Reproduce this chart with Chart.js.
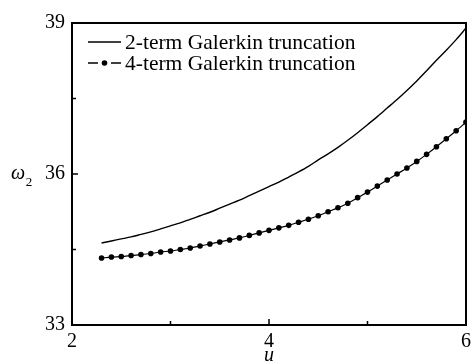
<!DOCTYPE html>
<html>
<head>
<meta charset="utf-8">
<script src="https://cdn.jsdelivr.net/npm/chart.js@4.4.0/dist/chart.umd.min.js"></script>
<style>
  html, body { margin: 0; padding: 0; background: #fff; }
  #wrap { width: 476px; height: 364px; }
</style>
</head>
<body>
<div id="wrap"><canvas id="grafico"></canvas></div>
<script>
// valores
const u = [2.3, 2.4, 2.5, 2.6, 2.7, 2.8, 2.9, 3.0, 3.1, 3.2, 3.3, 3.4, 3.5, 3.6, 3.7, 3.8, 3.9,
  4.0, 4.1, 4.2, 4.3, 4.4, 4.5, 4.6, 4.7, 4.8, 4.9, 5.0, 5.1, 5.2, 5.3, 5.4, 5.5, 5.6, 5.7, 5.8, 5.9, 6.0];
const omega2Term = [34.63, 34.67, 34.71, 34.75, 34.80, 34.85, 34.91, 34.97, 35.03, 35.10, 35.17, 35.24,
  35.32, 35.40, 35.48, 35.57, 35.66, 35.75, 35.84, 35.94, 36.04, 36.15, 36.28, 36.40, 36.53, 36.67,
  36.82, 36.98, 37.14, 37.31, 37.48, 37.66, 37.85, 38.05, 38.26, 38.46, 38.67, 38.90];
const omega4Term = [34.33, 34.35, 34.36, 34.38, 34.40, 34.42, 34.45, 34.47, 34.50, 34.53, 34.57, 34.61,
  34.65, 34.69, 34.73, 34.78, 34.83, 34.88, 34.93, 34.98, 35.04, 35.10, 35.17, 35.25, 35.33, 35.42,
  35.53, 35.64, 35.76, 35.88, 36.00, 36.12, 36.25, 36.39, 36.54, 36.70, 36.86, 37.03];
const xTicks = [2, 4, 6];
const xMinor = [3, 5];
const yTicks = [33, 36, 39];
const yMinor = [34.5, 37.5];
const seriesNames = ["2-term Galerkin truncation", "4-term Galerkin truncation"];

const serif = "'Liberation Serif', 'Times New Roman', serif";

// marco, marcas interiores, leyenda y titulos de ejes
const marco = {
  id: "marco",
  afterDraw(chart) {
    const { ctx, chartArea: a, scales } = chart;
    ctx.save();
    ctx.strokeStyle = "#000";
    ctx.lineWidth = 2;
    ctx.strokeRect(a.left, a.top, a.right - a.left, a.bottom - a.top);

    ctx.lineWidth = 1.5;
    ctx.beginPath();
    xTicks.concat(xMinor).forEach((v) => {
      const px = scales.x.getPixelForValue(v);
      const len = xTicks.includes(v) ? 6 : 4;
      ctx.moveTo(px, a.bottom);
      ctx.lineTo(px, a.bottom - len);
    });
    yTicks.concat(yMinor).forEach((v) => {
      const py = scales.y.getPixelForValue(v);
      const len = yTicks.includes(v) ? 6 : 4;
      ctx.moveTo(a.left, py);
      ctx.lineTo(a.left + len, py);
    });
    ctx.stroke();

    // leyenda
    ctx.fillStyle = "#000";
    ctx.font = "21.5px " + serif;
    ctx.textBaseline = "middle";
    const lx = a.left + 16;
    const rows = [a.top + 19, a.top + 40];
    ctx.lineWidth = 1.3;
    ctx.beginPath();
    ctx.moveTo(lx, rows[0]);
    ctx.lineTo(lx + 33, rows[0]);
    ctx.moveTo(lx, rows[1]);
    ctx.lineTo(lx + 10, rows[1]);
    ctx.moveTo(lx + 23, rows[1]);
    ctx.lineTo(lx + 33, rows[1]);
    ctx.stroke();
    ctx.beginPath();
    ctx.arc(lx + 16.5, rows[1], 2.8, 0, Math.PI * 2);
    ctx.fill();
    ctx.textAlign = "left";
    ctx.fillText(seriesNames[0], lx + 37, rows[0] + 1);
    ctx.fillText(seriesNames[1], lx + 37, rows[1] + 1);

    // titulos
    ctx.font = "italic 20px " + serif;
    ctx.textAlign = "center";
    ctx.fillText("u", (a.left + a.right) / 2, 356);
    const yc = scales.y.getPixelForValue(36);
    ctx.fillText("ω", 18, yc);
    ctx.font = "13px " + serif;
    ctx.fillText("2", 29, yc + 9);
    ctx.restore();
  },
};

const ctx = document.getElementById("grafico").getContext("2d");

new Chart(ctx, {
  type: "line",
  data: {
    datasets: [
      {
        label: seriesNames[0],
        data: u.map((x, i) => ({ x: x, y: omega2Term[i] })),
        borderColor: "#000",
        borderWidth: 1.4,
        pointRadius: 0,
        tension: 0.3,
      },
      {
        label: seriesNames[1],
        data: u.map((x, i) => ({ x: x, y: omega4Term[i] })),
        borderColor: "#000",
        backgroundColor: "#000",
        borderWidth: 1.2,
        pointRadius: 2.8,
        pointBorderWidth: 0,
        tension: 0.3,
      },
    ],
  },
  options: {
    responsive: true,
    maintainAspectRatio: false,
    animation: false,
    layout: { padding: { top: 23, right: 6, left: 0, bottom: 0 } },
    scales: {
      x: {
        type: "linear",
        min: 2,
        max: 6,
        grid: { display: false, drawTicks: false },
        border: { display: false },
        afterFit: (s) => { s.height = 39; },
        afterBuildTicks: (s) => { s.ticks = xTicks.map((v) => ({ value: v })); },
        ticks: {
          color: "#000",
          padding: 5,
          maxRotation: 0,
          autoSkip: false,
          font: { family: serif, size: 20 },
        },
      },
      y: {
        min: 33,
        max: 39,
        grid: { display: false, drawTicks: false },
        border: { display: false },
        afterFit: (s) => { s.width = 72; },
        afterBuildTicks: (s) => { s.ticks = yTicks.map((v) => ({ value: v })); },
        ticks: {
          color: "#000",
          padding: 7,
          font: { family: serif, size: 20 },
        },
      },
    },
    plugins: {
      legend: { display: false },
      tooltip: { enabled: false },
    },
  },
  plugins: [marco],
});
</script>
</body>
</html>
